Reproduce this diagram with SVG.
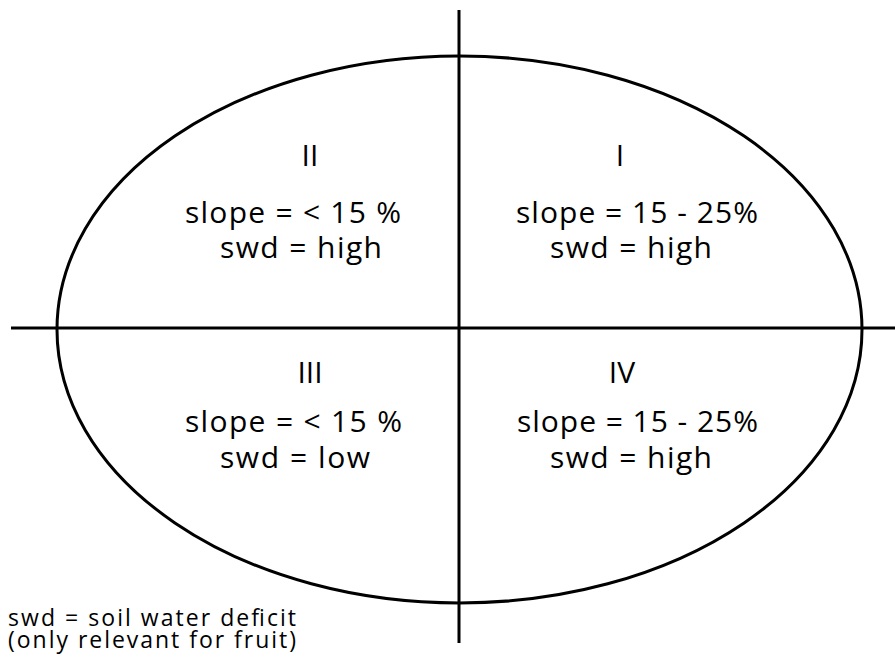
<svg xmlns="http://www.w3.org/2000/svg" width="895" height="657" viewBox="0 0 895 657">
<style>
.ln{stroke:#000;stroke-width:3;fill:none}
.t{font-family:"Open Sans","Noto Sans","Liberation Sans",sans-serif;font-size:30px;font-weight:500;fill:#000}
.f{font-family:"Open Sans","Noto Sans","Liberation Sans",sans-serif;font-size:23px;font-weight:500;fill:#000}
</style>
<rect width="895" height="657" fill="#fff"/>
<g id="ellipse"><ellipse class="ln" cx="459.5" cy="329.5" rx="402.5" ry="273.5"/></g>
<g id="connectors">
<line class="ln" x1="459" y1="10" x2="459" y2="643"/>
<line class="ln" x1="11" y1="328" x2="895" y2="328"/>
</g>
<g id="q2">
<text class="t" x="310" y="166" text-anchor="middle">II</text>
<text class="t" x="185" y="223" textLength="216" lengthAdjust="spacing">slope = &lt; 15 %</text>
<text class="t" x="220" y="258" textLength="162" lengthAdjust="spacing">swd = high</text>
</g>
<g id="q1">
<text class="t" x="620" y="166" text-anchor="middle">I</text>
<text class="t" x="516" y="223" textLength="242" lengthAdjust="spacing">slope = 15 - 25%</text>
<text class="t" x="550" y="258" textLength="162" lengthAdjust="spacing">swd = high</text>
</g>
<g id="q3">
<text class="t" x="310" y="383" text-anchor="middle">III</text>
<text class="t" x="185" y="432" textLength="217" lengthAdjust="spacing">slope = &lt; 15 %</text>
<text class="t" x="220" y="468" textLength="150" lengthAdjust="spacing">swd = low</text>
</g>
<g id="q4">
<text class="t" x="622" y="383" text-anchor="middle">IV</text>
<text class="t" x="517" y="432" textLength="241" lengthAdjust="spacing">slope = 15 - 25%</text>
<text class="t" x="550" y="468" textLength="162" lengthAdjust="spacing">swd = high</text>
</g>
<g id="note">
<text class="f" x="8" y="626" textLength="288" lengthAdjust="spacing">swd = soil water deficit</text>
<text class="f" x="8" y="648" textLength="288" lengthAdjust="spacing">(only relevant for fruit)</text>
</g>
</svg>
